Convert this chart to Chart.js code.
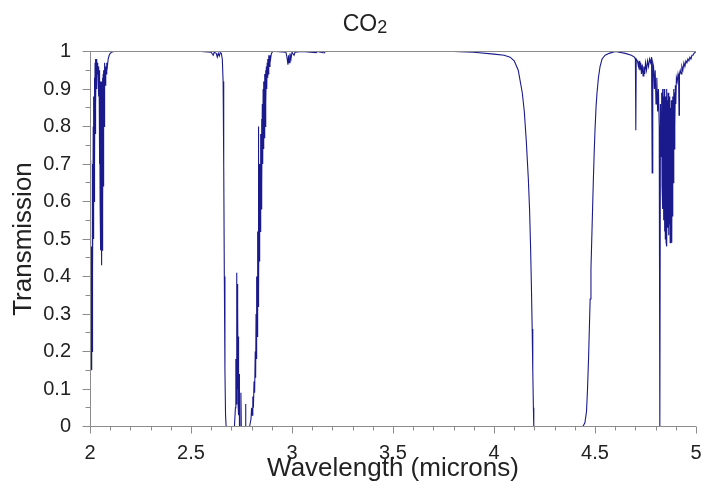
<!DOCTYPE html>
<html lang="en">
<head>
  <meta charset="UTF-8" />
  <title>CO2 transmission</title>
  <script src="https://cdn.jsdelivr.net/npm/chart.js"></script>
  <style>
    body { margin: 0; background: #fff; }
    canvas { display: block; }
  </style>
</head>
<body>
  <canvas id="co2Chart" width="704" height="490"></canvas>

  <script>
    // wavelength in microns, transmission 0..1 (same index in both lists)
    const wavelength = [
      // 2.0 band
      2.000, 2.002, 2.004, 2.006, 2.008, 2.009, 2.010, 2.011, 2.012, 2.013,
      2.014, 2.016, 2.017, 2.019, 2.020, 2.022, 2.023, 2.025, 2.026, 2.028,
      2.029, 2.031, 2.032, 2.034, 2.036, 2.038, 2.040, 2.042, 2.044, 2.045,
      2.046, 2.047, 2.048, 2.049, 2.050, 2.051, 2.052, 2.053, 2.054, 2.055,
      2.056, 2.057, 2.058, 2.059, 2.060, 2.061, 2.062, 2.063, 2.064, 2.065,
      2.066, 2.067, 2.068, 2.069, 2.070, 2.071, 2.072, 2.074, 2.076, 2.078,
      2.080, 2.083, 2.086, 2.090, 2.095, 2.100, 2.110, 2.120,
      // window up to 2.65
      2.200, 2.400, 2.550, 2.600, 2.610, 2.615, 2.625, 2.630, 2.635, 2.640,
      2.645, 2.650, 2.655, 2.659, 2.662, 2.665, 2.668, 2.671, 2.674,
      // 2.7 band
      2.715, 2.720, 2.722, 2.724, 2.726, 2.727, 2.729, 2.730, 2.732, 2.733,
      2.735, 2.736, 2.738, 2.740, 2.745, 2.747, 2.749, 2.768, 2.770, 2.772,
      2.790,
      // rising edge 2.79 - 2.9
      2.792, 2.797, 2.800, 2.803, 2.806, 2.809, 2.812, 2.815, 2.818, 2.820,
      2.822, 2.824, 2.826, 2.828, 2.830, 2.832, 2.834, 2.835, 2.837, 2.839,
      2.841, 2.843, 2.845, 2.847, 2.849, 2.851, 2.853, 2.855, 2.857, 2.859,
      2.861, 2.863, 2.865, 2.867, 2.869, 2.871, 2.873, 2.875, 2.877, 2.879,
      2.881, 2.883, 2.885, 2.888, 2.891, 2.894, 2.898, 2.905,
      // small lines near 3.0
      2.920, 2.970, 2.975, 2.980, 2.983, 2.986, 2.990, 2.995, 3.000, 3.010,
      3.015, 3.050, 3.120, 3.125, 3.160, 3.165,
      // 4.3 band edges
      3.500, 3.800, 3.900, 4.000, 4.050, 4.080, 4.100, 4.120, 4.140, 4.150,
      4.160, 4.170, 4.176, 4.181, 4.185, 4.189, 4.192, 4.195, 4.197,
      4.440, 4.450, 4.458, 4.463, 4.468, 4.472, 4.476, 4.480, 4.484, 4.488,
      4.492, 4.496, 4.500, 4.505, 4.510, 4.517, 4.525, 4.535, 4.550, 4.570,
      4.600, 4.620,
      // 4.7 - 5.0 lines
      4.650, 4.680, 4.695, 4.700, 4.702, 4.704, 4.710, 4.715, 4.718, 4.722,
      4.726, 4.730, 4.734, 4.738, 4.742, 4.746, 4.750, 4.755, 4.760, 4.765,
      4.770, 4.775, 4.780, 4.783, 4.786, 4.790, 4.794, 4.798, 4.802, 4.806,
      4.810, 4.814, 4.818, 4.821, 4.824, 4.827, 4.830, 4.832, 4.834, 4.836,
      4.838, 4.840, 4.842, 4.844, 4.846, 4.848, 4.850, 4.852, 4.854, 4.856,
      4.858, 4.860, 4.862, 4.864, 4.866, 4.868, 4.870, 4.872, 4.874, 4.876,
      4.878, 4.880, 4.882, 4.884, 4.886, 4.888, 4.890, 4.892, 4.894, 4.896,
      4.898, 4.900, 4.903, 4.907, 4.911, 4.914, 4.916, 4.918, 4.922, 4.926,
      4.930, 4.935, 4.940, 4.945, 4.950, 4.955, 4.960, 4.965, 4.970, 4.975,
      4.980, 4.985, 4.990, 5.000
    ];

    const transmission = [
      0.71, 0.40, 0.22, 0.16, 0.15, 0.48, 0.20, 0.60, 0.30, 0.70,
      0.40, 0.80, 0.50, 0.88, 0.60, 0.93, 0.70, 0.97, 0.78, 0.98,
      0.86, 0.97, 0.90, 0.98, 0.94, 0.97, 0.93, 0.96, 0.88, 0.95,
      0.80, 0.94, 0.70, 0.93, 0.60, 0.92, 0.52, 0.91, 0.47, 0.90,
      0.44, 0.92, 0.43, 0.90, 0.47, 0.93, 0.52, 0.92, 0.58, 0.94,
      0.64, 0.95, 0.72, 0.94, 0.80, 0.96, 0.86, 0.97, 0.91, 0.96,
      0.94, 0.97, 0.96, 0.98, 0.99, 0.995, 0.999, 1.0,

      1.0, 1.0, 1.0, 0.998, 0.99, 0.998, 0.995, 0.985, 0.995, 0.988,
      0.997, 0.995, 0.98, 0.92, 0.70, 0.40, 0.15, 0.03, 0.0,

      0.0, 0.05, 0.18, 0.06, 0.41, 0.12, 0.38, 0.10, 0.32, 0.06,
      0.24, 0.03, 0.14, 0.0, 0.0, 0.09, 0.0, 0.0, 0.06, 0.0,
      0.0,

      0.00, 0.02, 0.05, 0.03, 0.08, 0.05, 0.12, 0.09, 0.20, 0.13,
      0.30, 0.18, 0.40, 0.24, 0.52, 0.32, 0.80, 0.36, 0.62, 0.44,
      0.70, 0.52, 0.78, 0.58, 0.82, 0.64, 0.86, 0.70, 0.90, 0.74,
      0.92, 0.77, 0.94, 0.80, 0.95, 0.86, 0.96, 0.90, 0.97, 0.93,
      0.98, 0.94, 0.99, 0.96, 0.99, 0.98, 0.995, 1.0,

      1.0, 0.998, 0.985, 0.965, 0.99, 0.97, 0.995, 0.98, 0.998, 0.99,
      0.998, 1.0, 0.997, 1.0, 0.996, 1.0,

      1.0, 1.0, 0.998, 0.993, 0.99, 0.985, 0.975, 0.95, 0.89, 0.84,
      0.76, 0.66, 0.58, 0.48, 0.38, 0.26, 0.15, 0.05, 0.0,
      0.0, 0.01, 0.04, 0.10, 0.18, 0.26, 0.34, 0.42, 0.50, 0.58,
      0.66, 0.73, 0.79, 0.85, 0.89, 0.93, 0.96, 0.98, 0.99, 0.995,
      1.0, 0.998,

      0.995, 0.99, 0.985, 0.98, 0.79, 0.98, 0.975, 0.96, 0.975, 0.95,
      0.97, 0.94, 0.965, 0.935, 0.96, 0.94, 0.97, 0.95, 0.975, 0.96,
      0.98, 0.97, 0.985, 0.676, 0.97, 0.96, 0.90, 0.95, 0.86, 0.93,
      0.84, 0.90, 0.80, 0.0, 0.86, 0.72, 0.89, 0.64, 0.90, 0.58,
      0.88, 0.55, 0.90, 0.52, 0.89, 0.50, 0.88, 0.49, 0.90, 0.48,
      0.87, 0.53, 0.89, 0.51, 0.86, 0.54, 0.88, 0.49, 0.85, 0.50,
      0.87, 0.49, 0.86, 0.56, 0.88, 0.65, 0.90, 0.74, 0.89, 0.80,
      0.91, 0.86, 0.93, 0.92, 0.94, 0.93, 0.83, 0.94, 0.95, 0.94,
      0.96, 0.95, 0.97, 0.96, 0.975, 0.97, 0.98, 0.975, 0.985, 0.98,
      0.99, 0.99, 0.995, 1.0
    ];

    const FONT = '"Liberation Sans", Arial, sans-serif';
    const AXIS_GREY = '#8c8c8c';
    const TEXT = '#222222';

    const points = wavelength.map((w, i) => ({ x: w, y: transmission[i] }));

    // 2.50 -> "2.5", 1.0 -> "1"
    const plainNumber = v => String(Number(v.toFixed(2)));

    // axis lines, top frame line and tick marks, drawn over the trace.
    // the plot area top/bottom sit on half pixels so T=0 and T=1 fall
    // exactly under the grey lines
    const frameTicks = {
      id: 'frameTicks',
      afterDatasetsDraw(chart) {
        const { ctx, chartArea: a, scales: { x, y } } = chart;
        const left = Math.round(a.left) + 0.5;
        ctx.save();
        ctx.strokeStyle = AXIS_GREY;
        ctx.lineWidth = 1;
        ctx.beginPath();
        ctx.moveTo(a.left, a.top);
        ctx.lineTo(a.right, a.top);
        ctx.moveTo(a.left, a.bottom);
        ctx.lineTo(a.right, a.bottom);
        ctx.moveTo(left, a.top);
        ctx.lineTo(left, a.bottom);
        for (let k = 0; k <= 30; k++) {
          const px = Math.round(x.getPixelForValue(2 + k / 10)) + 0.5;
          const len = k % 5 === 0 ? 7 : 4;
          ctx.moveTo(px, a.bottom);
          ctx.lineTo(px, a.bottom + len);
        }
        for (let k = 0; k <= 20; k++) {
          const py = Math.floor(y.getPixelForValue(k / 20)) + 0.5;
          const len = k % 2 === 0 ? 8 : 5;
          ctx.moveTo(left, py);
          ctx.lineTo(left - len, py);
        }
        ctx.stroke();
        ctx.restore();
      }
    };

    // "CO2" heading with the 2 set as a subscript
    const heading = {
      id: 'heading',
      afterDraw(chart) {
        const { ctx } = chart;
        ctx.save();
        ctx.fillStyle = TEXT;
        ctx.textBaseline = 'alphabetic';
        ctx.font = '23px ' + FONT;
        const w = ctx.measureText('CO').width;
        ctx.font = '18px ' + FONT;
        const w2 = ctx.measureText('2').width;
        const x0 = 365 - (w + w2) / 2;
        ctx.font = '23px ' + FONT;
        ctx.fillText('CO', x0, 31);
        ctx.font = '18px ' + FONT;
        ctx.fillText('2', x0 + w, 33);
        ctx.restore();
      }
    };

    new Chart(document.getElementById('co2Chart'), {
      type: 'line',
      data: {
        datasets: [{
          label: 'CO2',
          data: points,
          borderColor: '#1a1a8c',
          borderWidth: 1.1,
          pointRadius: 0,
          tension: 0,
          fill: false
        }]
      },
      options: {
        responsive: false,
        animation: false,
        layout: { padding: { top: 51.5, right: 8, bottom: 0, left: 0 } },
        plugins: {
          legend: { display: false },
          title: { display: false },
          tooltip: { enabled: false }
        },
        scales: {
          x: {
            type: 'linear',
            min: 2,
            max: 5,
            afterFit: s => {
              s.height = 63.5;
              s.paddingLeft = 0;
              s.paddingRight = 0;
            },
            grid: { display: true, drawOnChartArea: false, drawTicks: false },
            border: { display: false },
            ticks: {
              stepSize: 0.5,
              padding: 15,
              color: TEXT,
              font: { family: FONT, size: 20 },
              maxRotation: 0,
              callback: plainNumber
            },
            title: {
              display: true,
              text: 'Wavelength (microns)',
              color: TEXT,
              font: { family: FONT, size: 26 },
              padding: { top: 0, bottom: 6 }
            }
          },
          y: {
            min: 0,
            max: 1,
            afterFit: s => {
              s.width = 90;
              s.paddingTop = 0;
              s.paddingBottom = 0;
            },
            grid: { display: true, drawOnChartArea: false, drawTicks: false },
            border: { display: false },
            ticks: {
              stepSize: 0.1,
              padding: 19,
              color: TEXT,
              font: { family: FONT, size: 20 },
              callback: plainNumber
            },
            title: {
              display: true,
              text: 'Transmission',
              color: TEXT,
              font: { family: FONT, size: 26 },
              padding: { top: 8, bottom: 0 }
            }
          }
        }
      },
      plugins: [frameTicks, heading]
    });
  </script>
</body>
</html>
